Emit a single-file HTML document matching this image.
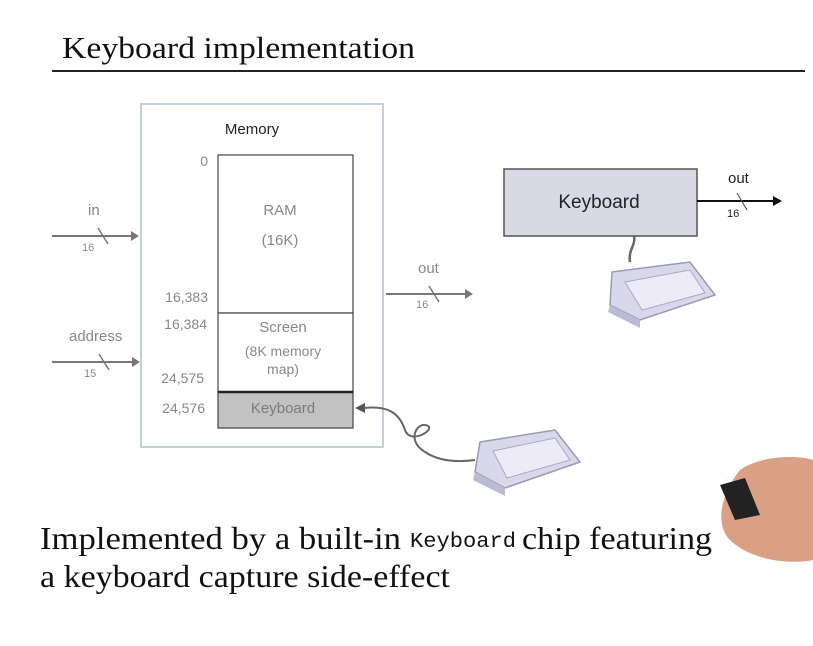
<!DOCTYPE html>
<html><head><meta charset="utf-8"><style>
body{margin:0;background:#fff;width:813px;height:641px;overflow:hidden}
</style></head><body>
<svg width="813" height="641" viewBox="0 0 813 641" xmlns="http://www.w3.org/2000/svg" font-family="'Liberation Sans',sans-serif">
<rect width="813" height="641" fill="#fff"/>
<text x="62" y="58" font-family="'Liberation Serif',serif" font-size="31" fill="#111" textLength="353" lengthAdjust="spacingAndGlyphs">Keyboard implementation</text>
<line x1="52" y1="71" x2="805" y2="71" stroke="#222" stroke-width="2"/>
<!-- memory -->
<rect x="141" y="104" width="242" height="343" fill="#fff" stroke="#c4cfdd" stroke-width="2"/>
<text x="252" y="134" font-size="15" text-anchor="middle" fill="#222">Memory</text>
<rect x="218" y="155" width="135" height="158" fill="#fff" stroke="#444" stroke-width="1.2"/>
<rect x="218" y="313" width="135" height="79" fill="#fff" stroke="#444" stroke-width="1.2"/>
<rect x="218" y="392" width="135" height="36" fill="#c2c2c2" stroke="#444" stroke-width="1.2"/>
<line x1="218" y1="392" x2="353" y2="392" stroke="#222" stroke-width="2.5"/>
<g fill="#888" font-size="15" text-anchor="middle">
<text x="280" y="215">RAM</text>
<text x="280" y="245">(16K)</text>
<text x="283" y="332">Screen</text>
<text x="283" y="356" font-size="14">(8K memory</text>
<text x="283" y="374" font-size="14">map)</text>
<text x="283" y="413" fill="#7a7a7a">Keyboard</text>
</g>
<g fill="#888" font-size="14" text-anchor="end">
<text x="208" y="166">0</text>
<text x="208" y="302">16,383</text>
<text x="207" y="329">16,384</text>
<text x="204" y="383">24,575</text>
<text x="205" y="413">24,576</text>
</g>
<!-- arrows -->
<g stroke="#777" stroke-width="2" fill="#777">
<line x1="52" y1="236" x2="132" y2="236"/><path d="M139 236 L131 231 L131 241Z" stroke="none"/>
<line x1="98" y1="228" x2="108" y2="244" stroke-width="1.5"/>
<line x1="52" y1="362" x2="133" y2="362"/><path d="M140 362 L132 357 L132 367Z" stroke="none"/>
<line x1="99" y1="354" x2="109" y2="370" stroke-width="1.5"/>
<line x1="386" y1="294" x2="466" y2="294"/><path d="M473 294 L465 289 L465 299Z" stroke="none"/>
<line x1="429" y1="286" x2="439" y2="302" stroke-width="1.5"/>
</g>
<g fill="#888" font-size="15">
<text x="88" y="215">in</text>
<text x="69" y="341">address</text>
<text x="418" y="273">out</text>
</g>
<g fill="#888" font-size="11">
<text x="82" y="251">16</text>
<text x="84" y="377">15</text>
<text x="416" y="308">16</text>
</g>
<!-- cable to memory keyboard -->
<path d="M355 408 L365 403 L365 413Z" fill="#555"/>
<path d="M364 408 C390 405 400 415 405 430 C410 445 435 430 428 426 C418 420 405 440 425 452 C440 462 460 462 475 460" fill="none" stroke="#666" stroke-width="2"/>
<!-- right keyboard chip -->
<rect x="504" y="169" width="193" height="67" fill="#d9d9e6" stroke="#555" stroke-width="1.5"/>
<text x="599" y="208" font-size="19" text-anchor="middle" fill="#222">Keyboard</text>
<line x1="697" y1="201" x2="774" y2="201" stroke="#111" stroke-width="2"/>
<path d="M782 201 L773 196 L773 206Z" fill="#111"/>
<line x1="737" y1="193" x2="747" y2="210" stroke="#555" stroke-width="1.2"/>
<text x="728" y="183" font-size="15" fill="#222">out</text>
<text x="727" y="217" font-size="11" fill="#222">16</text>
<path d="M634 236 C636 245 628 250 630 262" fill="none" stroke="#666" stroke-width="2.5"/>
<!-- keyboards -->
<g>
<path d="M612 272 L690 262 L715 295 L640 320 L610 305 Z" fill="#d9d8ea" stroke="#9a98b8" stroke-width="1.5"/>
<path d="M625 282 L690 270 L705 293 L642 310 Z" fill="#ecebf7" stroke="#a9a7c6"/>
<path d="M610 305 L640 320 L640 328 L608 312 Z" fill="#bcbad4"/>
</g>
<g>
<path d="M480 442 L555 430 L580 462 L505 488 L475 472 Z" fill="#d9d8ea" stroke="#9a98b8" stroke-width="1.5"/>
<path d="M493 451 L555 438 L570 460 L507 478 Z" fill="#ecebf7" stroke="#a9a7c6"/>
<path d="M475 472 L505 488 L505 496 L473 480 Z" fill="#bcbad4"/>
</g>
<!-- hand -->
<path d="M740 470 C760 455 800 455 813 460 L813 560 C790 565 750 560 730 540 C715 525 720 495 740 470Z" fill="#d9a083"/>
<path d="M720 485 L745 478 L760 515 L735 520Z" fill="#222"/>
<!-- bottom text -->
<g font-family="'Liberation Serif',serif" font-size="32" fill="#111">
<text x="40" y="549" textLength="361" lengthAdjust="spacingAndGlyphs">Implemented by a built-in</text>
<text x="410" y="547" font-family="'Liberation Mono',monospace" font-size="21" textLength="106" lengthAdjust="spacingAndGlyphs">Keyboard</text>
<text x="522" y="549" textLength="190" lengthAdjust="spacingAndGlyphs">chip featuring</text>
<text x="40" y="587" textLength="410" lengthAdjust="spacingAndGlyphs">a keyboard capture side-effect</text>
</g>
</svg>
</body></html>
